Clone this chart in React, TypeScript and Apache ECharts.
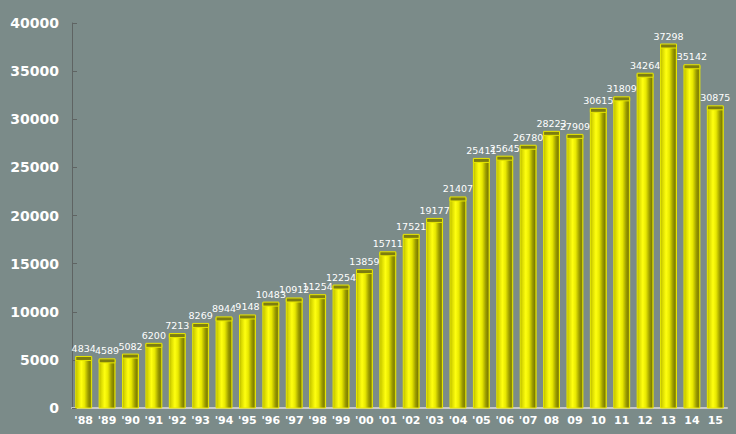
import React, { useEffect, useRef } from "react";
import * as echarts from "echarts";

const categories = ["'88", "'89", "'90", "'91", "'92", "'93", "'94", "'95", "'96", "'97", "'98", "'99", "'00", "'01", "'02", "'03", "'04", "'05", "'06", "'07", "08", "09", "10", "11", "12", "13", "14", "15"];
const values = [4834, 4589, 5082, 6200, 7213, 8269, 8944, 9148, 10483, 10912, 11254, 12254, 13859, 15711, 17521, 19177, 21407, 25411, 25645, 26780, 28223, 27909, 30615, 31809, 34264, 37298, 35142, 30875];
const yTicks = { min: 0, max: 40000, interval: 5000 };

export default function App() {
  const ref = useRef<HTMLDivElement>(null);
  useEffect(() => {
    const chart = echarts.init(ref.current!, null, { renderer: "svg" });
    const bodyFill = new echarts.graphic.LinearGradient(0, 0, 1, 0, [
      { offset: 0, color: "#b8b800" },
      { offset: 0.12, color: "#d8d800" },
      { offset: 0.35, color: "#ffff10" },
      { offset: 0.55, color: "#e8e800" },
      { offset: 0.78, color: "#9a9a00" },
      { offset: 0.9, color: "#808000" },
      { offset: 1, color: "#b0b000" },
    ]);
    chart.setOption({
      animation: false,
      backgroundColor: "#7b8b89",
      grid: { left: 72, right: 9, top: 23, bottom: 26 },
      xAxis: {
        type: "category",
        data: categories,
        axisLine: { lineStyle: { color: "#c8c8c8", width: 2 } },
        axisTick: { inside: true, length: 3, lineStyle: { color: "#e0e0e0" } },
        axisLabel: {
          color: "#ffffff",
          fontFamily: "DejaVu Sans",
          fontWeight: "bold",
          fontSize: 11,
          margin: 7,
          interval: 0,
        },
      },
      yAxis: {
        type: "value",
        min: yTicks.min,
        max: yTicks.max,
        interval: yTicks.interval,
        splitLine: { show: false },
        axisLine: { show: true, lineStyle: { color: "#5f6463", width: 1 } },
        axisTick: { show: true, inside: true, length: 5, lineStyle: { color: "#5f6463" } },
        axisLabel: {
          color: "#ffffff",
          fontFamily: "DejaVu Sans",
          fontWeight: "bold",
          fontSize: 14,
          margin: 13,
          formatter: (v: number) => String(v),
        },
      },
      series: [
        {
          type: "custom",
          clip: false,
          encode: { x: 0, y: 1 },
          data: values.map((v, i) => [i, v]),
          renderItem: (params: any, api: any) => {
            const idx = api.value(0);
            const v = api.value(1);
            const top = api.coord([idx, v]);
            const base = api.coord([idx, 0]);
            const w = api.size([1, 0])[0] * 0.68;
            const left = top[0] - w / 2;
            const ty = top[1] - 4;
            return {
              type: "group",
              children: [
                {
                  type: "rect",
                  shape: { x: left, y: ty, width: w, height: base[1] - ty },
                  style: { fill: bodyFill, stroke: "#e8e800", lineWidth: 1 },
                },
                {
                  type: "rect",
                  shape: { x: left, y: ty - 1, width: w, height: 4 },
                  style: { fill: "#7d7d10", stroke: "#e8e800", lineWidth: 1 },
                },
                {
                  type: "text",
                  style: {
                    x: top[0],
                    y: ty - 4,
                    text: String(v),
                    align: "center",
                    verticalAlign: "bottom",
                    fill: "#ffffff",
                    font: "9.5px 'DejaVu Sans'",
                  },
                },
              ],
            };
          },
        },
      ],
    });
    return () => chart.dispose();
  }, []);
  return <div ref={ref} style={{ position: "fixed", left: 0, top: 0, width: 736, height: 434 }} />;
}
